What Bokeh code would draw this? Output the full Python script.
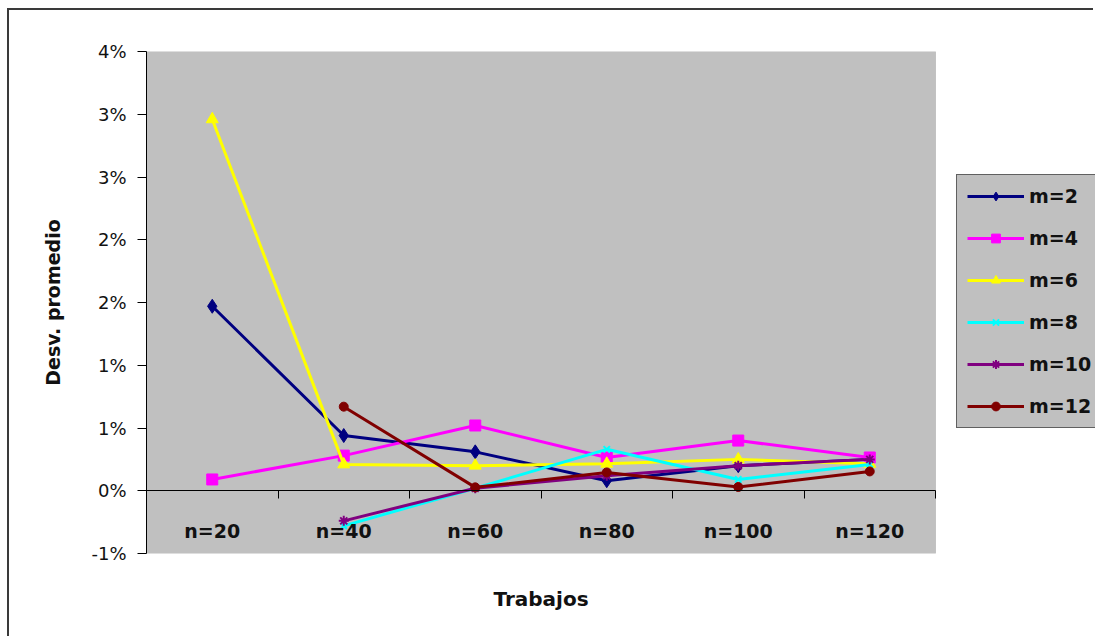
import math
from bokeh.plotting import figure
from bokeh.models import (FixedTicker, LinearAxis, Legend, LegendItem,
                          Range1d, ColumnDataSource, BoxAnnotation)
from bokeh.embed import file_html
from bokeh.resources import INLINE

NaN = float("nan")

# ---- data (values in percent) ----
categories = ["n=20", "n=40", "n=60", "n=80", "n=100", "n=120"]
series_names = ["m=2", "m=4", "m=6", "m=8", "m=10", "m=12"]
m2 = [1.47, 0.44, 0.31, 0.08, 0.20, 0.25]
m4 = [0.09, 0.28, 0.52, 0.265, 0.40, 0.265]
m6 = [2.96, 0.21, 0.20, 0.215, 0.25, 0.215]
m8 = [NaN, -0.28, 0.02, 0.33, 0.09, 0.21]
m10 = [NaN, -0.24, 0.02, 0.12, 0.20, 0.25]
m12 = [NaN, 0.67, 0.027, 0.146, 0.03, 0.154]
y_ticks = [-0.5, 0.0, 0.5, 1.0, 1.5, 2.0, 2.5, 3.0, 3.5]
y_tick_labels = ["-1%", "0%", "1%", "1%", "2%", "2%", "3%", "3%", "4%"]
x_title = "Trabajos"
y_title = "Desv. promedio"

series_values = [m2, m4, m6, m8, m10, m12]
colors = ["#000080", "#FF00FF", "#FFFF00", "#00FFFF", "#800080", "#800000"]
markers = ["diamond", "square", "triangle", "x", "asterisk", "circle"]
sizes = [14, 11, 12, 9, 10, 9]

xpos = [i + 1 for i in range(len(categories))]
x_lo, x_hi = 0.5, len(categories) + 0.5

# ---- layout (pixels) ----
OFF_X, OFF_Y = 9, 10            # outer chart border offset in the page
AREA_L, AREA_R = 146, 935       # plot area, page pixels
AREA_T, AREA_B = 51, 553
PAGE_W, PAGE_H = 1095, 638      # a little slack inside the 1098x640 window
LEG_L, LEG_B = 956, 428         # legend box left / bottom

# the frame extends to the canvas' right edge so the legend can live there
px_per_unit = (AREA_R - AREA_L) / (x_hi - x_lo)
x_end = x_hi + (PAGE_W - AREA_R) / px_per_unit

p = figure(width=PAGE_W - OFF_X, height=PAGE_H - OFF_Y, output_backend="svg",
           toolbar_location=None,
           x_range=Range1d(x_lo, x_end),
           y_range=Range1d(y_ticks[0], y_ticks[-1]),
           min_border_left=AREA_L - OFF_X, min_border_right=0,
           min_border_top=AREA_T - OFF_Y, min_border_bottom=PAGE_H - AREA_B,
           x_axis_location=None, y_axis_location=None)
p.margin = (OFF_Y, 0, 0, OFF_X)
# outer chart border on the left and top edges only
p.styles = {"box-shadow": "-2px -2px 0px 0px #3a3a3a"}
p.background_fill_color = "white"
p.border_fill_color = "white"
p.outline_line_color = None
p.xgrid.visible = False
p.ygrid.visible = False

# gray plot area (spans the category range only)
area = BoxAnnotation(left=x_lo, right=x_hi, bottom=y_ticks[0], top=y_ticks[-1],
                     fill_color="#C0C0C0", fill_alpha=1,
                     line_color="#808080", line_width=1, level="underlay")
p.add_layout(area)

FONT = "DejaVu Sans"

# y axis
yax = LinearAxis(ticker=FixedTicker(ticks=y_ticks, minor_ticks=[]),
                 major_label_overrides={t: l for t, l in zip(y_ticks, y_tick_labels)})
yax.axis_line_color = "black"
yax.major_tick_out = 9
yax.major_tick_in = 0
yax.minor_tick_out = 0
yax.minor_tick_in = 0
yax.major_tick_line_color = "black"
yax.major_label_text_font = FONT
yax.major_label_text_font_size = "18px"
yax.major_label_text_color = "#111111"
yax.major_label_standoff = 11
yax.axis_label = y_title
yax.axis_label_text_font = FONT
yax.axis_label_text_font_style = "bold"
yax.axis_label_text_font_size = "19px"
yax.axis_label_text_color = "#111111"
yax.axis_label_standoff = 24
p.add_layout(yax, "left")

# x axis crossing at 0
xax = LinearAxis(ticker=FixedTicker(ticks=xpos, minor_ticks=[x - 0.5 for x in xpos] + [xpos[-1] + 0.5]),
                 major_label_overrides={x: c for x, c in zip(xpos, categories)},
                 bounds=(x_lo, x_hi))
xax.fixed_location = 0
xax.axis_line_color = "black"
xax.major_tick_out = 0
xax.major_tick_in = 0
xax.minor_tick_out = 8
xax.minor_tick_in = 0
xax.minor_tick_line_color = "black"
xax.major_label_text_font = FONT
xax.major_label_text_font_style = "bold"
xax.major_label_text_font_size = "19px"
xax.major_label_text_color = "#111111"
xax.major_label_standoff = 21
p.add_layout(xax, "below")

# x title: a single label centred under the category range
x_mid = (x_lo + x_hi) / 2
xt = LinearAxis(ticker=FixedTicker(ticks=[x_mid], minor_ticks=[]),
                major_label_overrides={x_mid: x_title})
xt.axis_line_color = None
xt.major_tick_out = 0
xt.major_tick_in = 0
xt.minor_tick_out = 0
xt.major_label_text_font = FONT
xt.major_label_text_font_style = "bold"
xt.major_label_text_font_size = "20px"
xt.major_label_text_color = "#111111"
xt.major_label_standoff = 33
p.add_layout(xt, "below")

items = []
for name, vals, col, mk, sz in zip(series_names, series_values, colors, markers, sizes):
    src = ColumnDataSource(dict(x=xpos, y=vals))
    lr = p.line("x", "y", source=src, line_color=col, line_width=3)
    kw = dict(marker=mk, size=sz, line_color=col, fill_color=col)
    if mk in ("x", "asterisk"):
        kw["line_width"] = 2
    sr = p.scatter("x", "y", source=src, **kw)
    items.append(LegendItem(label=name, renderers=[lr, sr]))

# location = bottom-left corner relative to the frame's bottom-left
legend = Legend(items=items, location=(LEG_L - AREA_L, AREA_B - LEG_B))
legend.background_fill_color = "#C0C0C0"
legend.background_fill_alpha = 1
legend.border_line_color = "black"
legend.border_line_width = 1
legend.label_text_font = FONT
legend.label_text_font_style = "bold"
legend.label_text_font_size = "19px"
legend.label_text_color = "#111111"
legend.glyph_width = 57
legend.glyph_height = 22
legend.label_height = 22
legend.label_width = 90
legend.label_standoff = 5
legend.spacing = 20
legend.padding = 10
legend.margin = 0
p.add_layout(legend, "center")

open("out.html", "w").write(file_html(p, INLINE))
